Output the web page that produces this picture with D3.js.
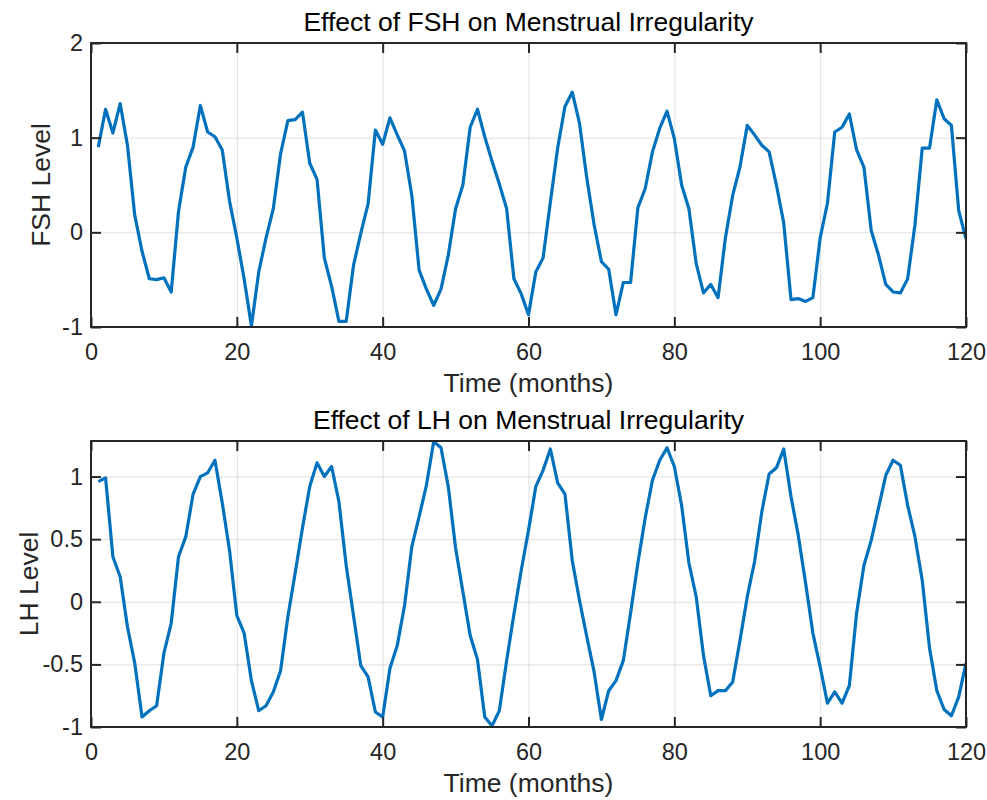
<!DOCTYPE html>
<html>
<head>
<meta charset="utf-8">
<script src="https://cdn.jsdelivr.net/npm/d3@7/dist/d3.min.js"></script>
<style>
  html, body { margin: 0; padding: 0; background: #fff; }
  svg { display: block; }
  text { font-family: "Liberation Sans", Arial, Helvetica, sans-serif; }
</style>
</head>
<body>
<svg id="chart" width="987" height="800"></svg>
<script>
// ---- data ----
const months = d3.range(1, 121);

const fshLevel = [
  0.90, 1.30, 1.05, 1.36, 0.92, 0.18, -0.20, -0.49, -0.50, -0.48,
  -0.63, 0.22, 0.69, 0.90, 1.34, 1.06, 1.01, 0.87, 0.33, -0.06,
  -0.49, -0.99, -0.42, -0.06, 0.25, 0.83, 1.18, 1.19, 1.27, 0.73,
  0.56, -0.27, -0.57, -0.94, -0.94, -0.35, -0.01, 0.30, 1.08, 0.93,
  1.21, 1.03, 0.86, 0.39, -0.40, -0.60, -0.77, -0.60, -0.24, 0.25,
  0.50, 1.11, 1.30, 1.01, 0.75, 0.51, 0.25, -0.49, -0.65, -0.87,
  -0.42, -0.27, 0.32, 0.89, 1.33, 1.48, 1.15, 0.57, 0.08, -0.31,
  -0.39, -0.87, -0.53, -0.53, 0.26, 0.46, 0.85, 1.10, 1.28, 0.99,
  0.50, 0.25, -0.33, -0.64, -0.55, -0.69, -0.06, 0.39, 0.69, 1.13,
  1.03, 0.92, 0.85, 0.50, 0.10, -0.71, -0.70, -0.73, -0.69, -0.06,
  0.31, 1.06, 1.11, 1.25, 0.87, 0.69, 0.02, -0.24, -0.55, -0.63,
  -0.64, -0.49, 0.08, 0.89, 0.89, 1.40, 1.20, 1.13, 0.23, -0.07
];

const lhLevel = [
  0.96, 0.99, 0.36, 0.20, -0.20, -0.49, -0.92, -0.87, -0.83, -0.41,
  -0.17, 0.36, 0.52, 0.86, 1.00, 1.03, 1.13, 0.79, 0.41, -0.11,
  -0.25, -0.63, -0.87, -0.83, -0.72, -0.55, -0.12, 0.23, 0.59, 0.92,
  1.11, 1.00, 1.08, 0.80, 0.29, -0.11, -0.51, -0.60, -0.88, -0.92,
  -0.53, -0.35, -0.03, 0.44, 0.68, 0.93, 1.28, 1.23, 0.92, 0.43,
  0.08, -0.27, -0.46, -0.92, -0.99, -0.87, -0.47, -0.10, 0.25, 0.57,
  0.92, 1.05, 1.22, 0.95, 0.86, 0.33, 0.01, -0.28, -0.56, -0.94,
  -0.71, -0.63, -0.47, -0.09, 0.31, 0.67, 0.97, 1.13, 1.23, 1.08,
  0.77, 0.31, 0.04, -0.43, -0.75, -0.71, -0.71, -0.64, -0.31, 0.04,
  0.32, 0.72, 1.02, 1.07, 1.22, 0.84, 0.53, 0.15, -0.25, -0.52,
  -0.81, -0.72, -0.81, -0.67, -0.09, 0.29, 0.49, 0.75, 1.01, 1.13,
  1.09, 0.77, 0.52, 0.17, -0.37, -0.71, -0.86, -0.91, -0.76, -0.49
];

const xTicks = [0, 20, 40, 60, 80, 100, 120];
const fshTicks = [-1, 0, 1, 2];
const lhTicks = [-1, -0.5, 0, 0.5, 1];

const panels = [
  { title: "Effect of FSH on Menstrual Irregularity", ylabel: "FSH Level",
    values: fshLevel, yDomain: [-1, 2], yTicks: fshTicks, top: 43, bottom: 327, labelX: 50 },
  { title: "Effect of LH on Menstrual Irregularity", ylabel: "LH Level",
    values: lhLevel, yDomain: [-1, 1.284], yTicks: lhTicks, top: 441, bottom: 727, labelX: 38 }
];

// ---- drawing ----
const svg = d3.select("#chart");
const left = 91, right = 966;
const axisColor = "#262626";
const tickFont = 23.5, labelFont = 26.5;
const fmt = d => String(d);

panels.forEach((p, i) => {
  const x = d3.scaleLinear().domain([0, 120]).range([left, right]);
  const y = d3.scaleLinear().domain(p.yDomain).range([p.bottom, p.top]);
  const w = right - left, h = p.bottom - p.top;
  const g = svg.append("g");

  g.append("clipPath").attr("id", "clip" + i)
    .append("rect").attr("x", left).attr("y", p.top).attr("width", w).attr("height", h);

  // grid
  const gx = g.append("g").attr("transform", `translate(0,${p.bottom})`)
    .call(d3.axisBottom(x).tickValues(xTicks).tickSize(-h).tickFormat(""));
  const gy = g.append("g").attr("transform", `translate(${left},0)`)
    .call(d3.axisLeft(y).tickValues(p.yTicks).tickSize(-w).tickFormat(""));
  [gx, gy].forEach(a => {
    a.select(".domain").remove();
    a.selectAll("line").attr("stroke", "#dfdfdf").attr("stroke-width", 1);
  });

  // data line
  const line = d3.line().x((d, k) => x(months[k])).y(d => y(d));
  g.append("path").datum(p.values)
    .attr("clip-path", `url(#clip${i})`)
    .attr("fill", "none").attr("stroke", "#0072BD").attr("stroke-width", 3.2)
    .attr("stroke-linejoin", "round")
    .attr("d", line);

  // axes
  const styleAxis = a => {
    a.select(".domain").remove();
    a.selectAll("line").attr("stroke", axisColor).attr("stroke-width", 2);
    a.selectAll("text").attr("fill", axisColor).style("font-size", tickFont + "px")
      .style("font-family", '"Liberation Sans", Arial, sans-serif');
  };
  g.append("g").attr("transform", `translate(0,${p.bottom})`)
    .call(d3.axisBottom(x).tickValues(xTicks).tickSizeInner(-10).tickSizeOuter(0)
      .tickPadding(16).tickFormat(fmt)).call(styleAxis);
  g.append("g").attr("transform", `translate(0,${p.top})`)
    .call(d3.axisTop(x).tickValues(xTicks).tickSizeInner(-10).tickSizeOuter(0)
      .tickFormat("")).call(styleAxis);
  g.append("g").attr("transform", `translate(${left},0)`)
    .call(d3.axisLeft(y).tickValues(p.yTicks).tickSizeInner(-10).tickSizeOuter(0)
      .tickPadding(8).tickFormat(fmt)).call(styleAxis);
  g.append("g").attr("transform", `translate(${right},0)`)
    .call(d3.axisRight(y).tickValues(p.yTicks).tickSizeInner(-10).tickSizeOuter(0)
      .tickFormat("")).call(styleAxis);

  g.append("rect").attr("x", left).attr("y", p.top).attr("width", w).attr("height", h)
    .attr("fill", "none").attr("stroke", axisColor).attr("stroke-width", 2);

  // title
  g.append("text").attr("x", (left + right) / 2).attr("y", p.top - 12)
    .attr("text-anchor", "middle").attr("fill", "#000")
    .style("font-size", labelFont + "px").text(p.title);
  // x label
  g.append("text").attr("x", (left + right) / 2).attr("y", p.bottom + 65)
    .attr("text-anchor", "middle").attr("fill", axisColor)
    .style("font-size", labelFont + "px").text("Time (months)");
  // y label
  g.append("text")
    .attr("transform", `translate(${p.labelX},${(p.top + p.bottom) / 2}) rotate(-90)`)
    .attr("text-anchor", "middle").attr("fill", axisColor)
    .style("font-size", labelFont + "px").text(p.ylabel);
});
</script>
</body>
</html>
